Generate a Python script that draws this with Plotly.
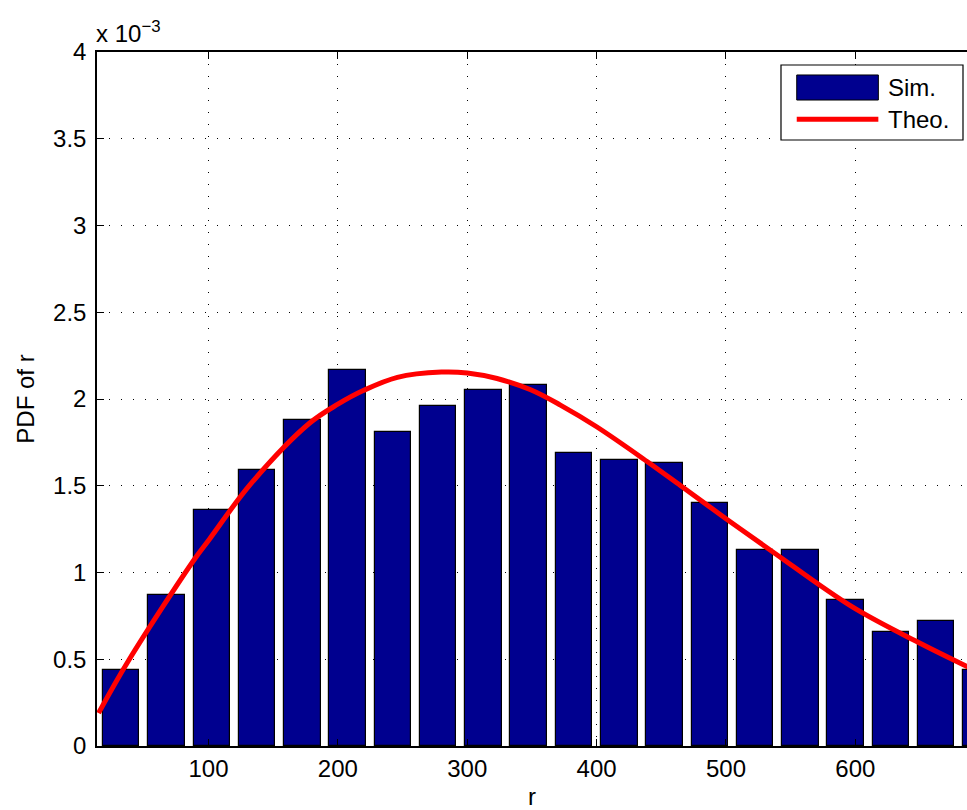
import plotly.graph_objects as go

# Histogram of simulated r (bin centres and normalised heights)
bin_centers = [32.5, 67.5, 102.5, 137.5, 172.5, 207.5, 242.5, 277.5, 312.5, 347.5,
               382.5, 417.5, 452.5, 487.5, 522.5, 557.5, 592.5, 627.5, 662.5, 697.5]
sim_pdf = [0.44e-3, 0.87e-3, 1.36e-3, 1.59e-3, 1.88e-3, 2.17e-3, 1.81e-3, 1.96e-3,
           2.05e-3, 2.08e-3, 1.69e-3, 1.65e-3, 1.63e-3, 1.40e-3, 1.13e-3, 1.13e-3,
           0.84e-3, 0.655e-3, 0.72e-3, 0.44e-3]

# Theoretical PDF curve
theo_r = [15, 38, 89, 101, 132, 178, 200, 220, 246, 280, 300, 323, 349, 372,
          400, 439, 465, 500, 536, 598, 650, 690]
theo_pdf = [0.19e-3, 0.49e-3, 1.075e-3, 1.195e-3, 1.505e-3, 1.86e-3, 1.97e-3,
            2.05e-3, 2.125e-3, 2.155e-3, 2.15e-3, 2.118e-3, 2.053e-3, 1.965e-3,
            1.84e-3, 1.64e-3, 1.50e-3, 1.31e-3, 1.12e-3, 0.80e-3, 0.592e-3,
            0.445e-3]

y_ticks = [0, 0.5e-3, 1e-3, 1.5e-3, 2e-3, 2.5e-3, 3e-3, 3.5e-3, 4e-3]
y_labels = ["0", "0.5", "1", "1.5", "2", "2.5", "3", "3.5", "4"]
x_ticks = [100, 200, 300, 400, 500, 600]

NAVY = "rgb(0,0,143)"
RED = "rgb(255,0,0)"
FONT = "Liberation Sans, Arial, Helvetica, sans-serif"

fig = go.Figure()
fig.add_trace(go.Bar(x=bin_centers, y=sim_pdf, width=28.2, name="Sim.",
                     marker=dict(color=NAVY, line=dict(color="black", width=1.2)),
                     showlegend=False))
fig.add_trace(go.Scatter(x=theo_r, y=theo_pdf, mode="lines", name="Theo.",
                         line=dict(color=RED, width=5, shape="spline", smoothing=1.0),
                         showlegend=False))

grid_dash = "1px,11px"
fig.update_xaxes(range=[13.8, 686.3], tickvals=x_ticks, ticks="inside", ticklen=7,
                 tickcolor="black", showline=True, linecolor="black", linewidth=1.5,
                 mirror="ticks", showgrid=True, gridcolor="black", gridwidth=1,
                 griddash=grid_dash, zeroline=False,
                 tickfont=dict(family=FONT, size=24, color="black"),
                 title=dict(text="r", font=dict(family=FONT, size=24, color="black"),
                            standoff=10))
fig.update_yaxes(range=[0, 4e-3], tickvals=y_ticks, ticktext=y_labels, ticks="inside",
                 ticklen=7, tickcolor="black", showline=True, linecolor="black",
                 linewidth=1.5, mirror=False, showgrid=True, gridcolor="black",
                 gridwidth=1, griddash=grid_dash, zeroline=False,
                 ticklabelstandoff=4,
                 tickfont=dict(family=FONT, size=24, color="black"),
                 title=dict(text="PDF of r", font=dict(family=FONT, size=24, color="black"),
                            standoff=12))

# Exponent multiplier above the y axis
fig.add_annotation(xref="paper", yref="paper", x=0, y=1, xanchor="left", yanchor="bottom",
                   xshift=-3, yshift=3, text="x 10<sup>−3</sup>", showarrow=False,
                   font=dict(family=FONT, size=24, color="black"))

# Legend box with a bar patch and a line sample
fig.add_shape(type="rect", xref="paper", yref="paper", x0=0.7862, x1=0.9954,
              y0=0.8732, y1=0.9813, line=dict(color="black", width=1.2),
              fillcolor="white", layer="above")
fig.add_shape(type="rect", xref="paper", yref="paper", x0=0.8043, x1=0.8981,
              y0=0.9308, y1=0.9669, line=dict(color="black", width=1),
              fillcolor=NAVY, layer="above")
fig.add_shape(type="line", xref="paper", yref="paper", x0=0.8043, x1=0.8981,
              y0=0.9031, y1=0.9031, line=dict(color=RED, width=5),
              layer="above")
fig.add_annotation(xref="paper", yref="paper", x=0.9072, y=0.9488, xanchor="left",
                   yanchor="middle", text="Sim.", showarrow=False,
                   font=dict(family=FONT, size=24, color="black"))
fig.add_annotation(xref="paper", yref="paper", x=0.9072, y=0.9031, xanchor="left",
                   yanchor="middle", text="Theo.", showarrow=False,
                   font=dict(family=FONT, size=24, color="black"))

fig.update_layout(width=967, height=810, margin=dict(l=97, r=0, t=52, b=64),
                  plot_bgcolor="white", paper_bgcolor="white", bargap=0,
                  font=dict(family=FONT, color="black"))

fig.write_html("out.html")
